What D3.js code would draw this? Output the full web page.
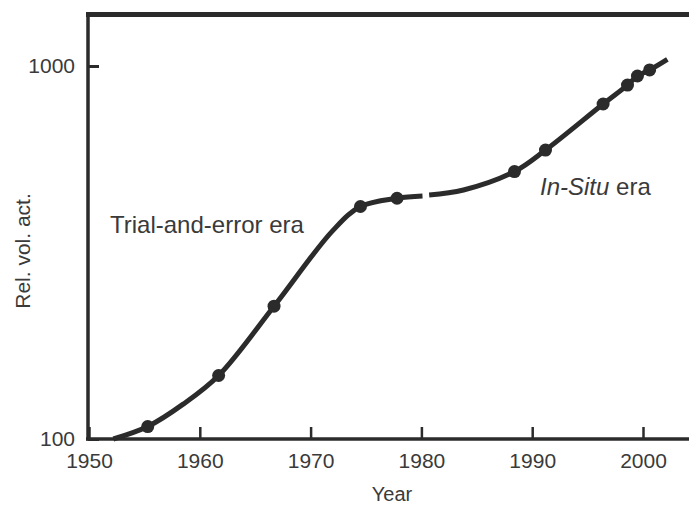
<!DOCTYPE html>
<html>
<head>
<meta charset="utf-8">
<script src="https://cdn.jsdelivr.net/npm/d3@7"></script>
<style>
  body { margin: 0; background: #fff; }
  text { font-family: "Liberation Sans", Arial, sans-serif; fill: #3a3a3a; }
</style>
</head>
<body>
<div id="chart"></div>
<script>
// Values
var yearTicks = [1950, 1960, 1970, 1980, 1990, 2000];
var volTicks = [100, 1000];

// curve before the break (trial-and-error era)
var curveYears1 = [1952.2, 1955.3, 1958.5, 1961.7, 1966.7, 1972.0, 1974.5, 1977.8, 1980.1];
var curveVals1  = [100, 108, 124, 148, 227, 362, 420, 442, 448];
// curve after the break (in-situ era)
var curveYears2 = [1980.7, 1983.8, 1988.4, 1991.2, 1996.4, 1998.6, 1999.5, 2000.6, 2002.2];
var curveVals2  = [451, 465, 521, 595, 791, 889, 940, 976, 1042];

// the dots on the line
var markYears = [1955.3, 1961.7, 1966.7, 1974.5, 1977.8, 1988.4, 1991.2, 1996.4, 1998.6, 1999.5, 2000.6];
var markVals  = [108, 148, 227, 420, 442, 521, 595, 791, 889, 940, 976];

var W = 689, H = 506;
var ink = "#2b2b2b";

var svg = d3.select("#chart").append("svg").attr("width", W).attr("height", H);

var x = d3.scaleLinear().domain([1950, 2000]).range([89, 643]);
var y = d3.scaleLog().domain([100, 1000]).range([439, 66]);

// Bottom axis, ticks pointing inward
var xAxis = svg.append("g")
	.attr("transform", "translate(0,439)")
	.call(d3.axisBottom(x).tickValues(yearTicks).tickFormat(d3.format("d"))
		.tickSizeInner(-12).tickSizeOuter(0).tickPadding(14));
xAxis.select(".domain").remove();
xAxis.selectAll(".tick line").attr("stroke", ink).attr("stroke-width", 2.5);
xAxis.selectAll(".tick text").style("font-size", "21px").attr("fill", "#3a3a3a");

// Left axis
var yAxis = svg.append("g")
	.attr("transform", "translate(88,0)")
	.call(d3.axisLeft(y).tickValues(volTicks).tickFormat(d3.format("d"))
		.tickSizeInner(-11).tickSizeOuter(0).tickPadding(13));
yAxis.select(".domain").remove();
yAxis.selectAll(".tick line").attr("stroke", ink).attr("stroke-width", 3);
yAxis.selectAll(".tick text").style("font-size", "21px").attr("fill", "#3a3a3a");

// Frame: left, bottom, top (no right side)
svg.append("line").attr("x1", 88).attr("x2", 88).attr("y1", 12).attr("y2", 440.5)
	.attr("stroke", ink).attr("stroke-width", 3.5);
svg.append("line").attr("x1", 86).attr("x2", W).attr("y1", 439).attr("y2", 439)
	.attr("stroke", ink).attr("stroke-width", 3.5);
svg.append("line").attr("x1", 86).attr("x2", W).attr("y1", 14.5).attr("y2", 14.5)
	.attr("stroke", ink).attr("stroke-width", 5);

// The curve, drawn in two pieces with a gap around 1980
var line = d3.line()
	.x(function(d){ return x(d[0]); })
	.y(function(d){ return y(d[1]); })
	.curve(d3.curveCatmullRom.alpha(0.5));

[[curveYears1, curveVals1], [curveYears2, curveVals2]].forEach(function(s){
	svg.append("path")
		.datum(s[0].map(function(v, i){ return [v, s[1][i]]; }))
		.attr("d", line)
		.attr("fill", "none")
		.attr("stroke", ink)
		.attr("stroke-width", 5)
		.attr("stroke-linecap", "butt");
});

svg.selectAll("circle.mark").data(markYears)
	.enter().append("circle")
	.attr("class", "mark")
	.attr("cx", function(d){ return x(d); })
	.attr("cy", function(d, i){ return y(markVals[i]); })
	.attr("r", 6.5)
	.attr("fill", ink);

// Annotations
svg.append("text").attr("x", 110).attr("y", 233)
	.style("font-size", "24px").text("Trial-and-error era");
var t2 = svg.append("text").attr("x", 540).attr("y", 195).style("font-size", "24px");
t2.append("tspan").style("font-style", "italic").text("In-Situ");
t2.append("tspan").text(" era");

// Axis titles
svg.append("text").attr("x", 392).attr("y", 501).attr("text-anchor", "middle")
	.style("font-size", "20px").text("Year");
svg.append("text").attr("transform", "translate(30,251) rotate(-90)")
	.attr("text-anchor", "middle").style("font-size", "21px").text("Rel. vol. act.");
</script>
</body>
</html>
